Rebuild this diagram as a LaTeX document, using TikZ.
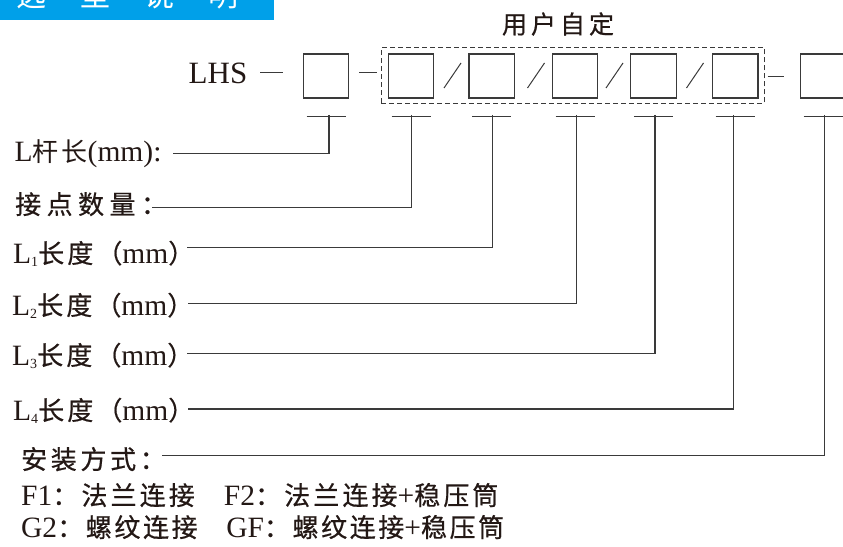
\documentclass[tikz,border=0pt]{standalone}
\usepackage{fontspec}
\setmainfont{Liberation Serif}
\newfontfamily\cjk[FakeBold=0.6]{Noto Sans CJK SC}
\newfontfamily\cjklight{Noto Sans CJK SC}
\definecolor{ink}{HTML}{231815}
\definecolor{banner}{RGB}{0,160,233}
\definecolor{linec}{HTML}{3A3A3A}
\newcommand\zh[2][0]{{\cjk\fontsize{26}{30}\selectfont\addfontfeature{LetterSpace=#1}#2}}
\newcommand\zhl[1]{{\cjklight\fontsize{26}{30}\selectfont #1}}
\newcommand\sub[1]{\raisebox{-3pt}{\fontsize{14}{14}\selectfont #1}}
\begin{document}
\begin{tikzpicture}[x=1pt,y=-1pt,
  box/.style={draw=linec, line width=1.3pt, minimum width=45.5pt, minimum height=44pt, inner sep=0pt, anchor=north west},
  grp/.style={draw=linec, line width=1.1pt, dash pattern=on 5pt off 3pt, inner sep=0pt, anchor=north west},
  lbl/.style={anchor=base west, inner sep=0pt, text=ink, font=\fontsize{29.5}{32}\selectfont},
  conn/.style={draw=linec, line width=1.2pt},
  ]
\useasboundingbox (0,0) rectangle (843,546);
\clip (0,0) rectangle (843,546);
% banner
\fill[banner] (0,0) rectangle (274,20);
\node[anchor=base west, inner sep=0pt, text=white, font=\cjklight\fontsize{30}{30}\selectfont] (title) at (16,6) {选\hspace{34pt}型\hspace{34pt}说\hspace{34pt}明};
% header
\node[lbl, font=\fontsize{31}{34}\selectfont] (lhs) at (188.5,83) {LHS};
\node[anchor=base, inner sep=0pt, text=ink] (user) at (558,33.5) {{\cjk\fontsize{25}{28}\selectfont\addfontfeature{LetterSpace=16}用户自定}};
\node[box] (b1) at (302.6,53.3) {};
\node[grp, minimum width=383pt, minimum height=55.5pt] (grp) at (380.5,47.3) {};
\node[box] (b2) at (387.6,53.3) {};
\node[box] (b3) at (468.4,53.3) {};
\node[box] (b4) at (551.6,53.3) {};
\node[box] (b5) at (630,53.3) {};
\node[box] (b6) at (711.8,53.3) {};
\node[box] (b7) at (799.6,53.3) {};
% dashes and slashes
\coordinate (d1a) at (260,72.5); \coordinate (d1b) at (283,72.5);
\coordinate (d2a) at (359,72.8); \coordinate (d2b) at (377,72.8);
\coordinate (d3a) at (767.5,76.5); \coordinate (d3b) at (783.5,76.5);
\draw[conn] (d1a) -- (d1b);
\draw[conn] (d2a) -- (d2b);
\draw[conn] (d3a) -- (d3b);
\coordinate (s1a) at (444,88); \coordinate (s1b) at (461,63);
\coordinate (s2a) at (527.5,88); \coordinate (s2b) at (544.5,63);
\coordinate (s3a) at (606,88); \coordinate (s3b) at (623,63);
\coordinate (s4a) at (686.5,88); \coordinate (s4b) at (703.5,63);
\draw[conn, line width=1pt] (s1a) -- (s1b);
\draw[conn, line width=1pt] (s2a) -- (s2b);
\draw[conn, line width=1pt] (s3a) -- (s3b);
\draw[conn, line width=1pt] (s4a) -- (s4b);
% T bars
\foreach \b in {b1,b2,b3,b4,b5,b6,b7}{
  \draw[conn] ([xshift=-19.5pt,yshift=-17.5pt]\b.south) -- ([xshift=19.5pt,yshift=-17.5pt]\b.south);
}
\coordinate (v1) at (329,114.8);
\coordinate (v2) at (411.7,114.8);
\coordinate (v3) at (492.3,114.8);
\coordinate (v4) at (576.7,114.8);
\coordinate (v5) at (655,114.8);
\coordinate (v6) at (733.3,114.8);
\coordinate (v7) at (824.3,114.8);
% labels
\node[lbl] (l1) at (14.5,161.7) {L\zhl{杆\hspace{3pt}长}(mm):};
\node[lbl] (l2) at (15,214) {\zh[21]{接点数量：}};
\node[lbl] (l3) at (13,263) {L\sub{1}\zh[12]{长度（}mm\zh{）}};
\node[lbl] (l4) at (12,315) {L\sub{2}\zh[12]{长度（}mm\zh{）}};
\node[lbl] (l5) at (12,365) {L\sub{3}\zh[12]{长度（}mm\zh{）}};
\node[lbl] (l6) at (13,420) {L\sub{4}\zh[12]{长度（}mm\zh{）}};
\node[lbl] (l7) at (21,469) {\zh[14]{安装方式：}};
\node[lbl] (l8) at (21,505) {F1\zh[12]{：法兰连接　}F2\zh[12]{：法兰连接}+\zh[12]{稳压筒}};
\node[lbl] (l9) at (21,537) {G2\zh[10]{：螺纹连接　}GF\zh[10]{：螺纹连接}+\zh[10]{稳压筒}};
% line starts
\coordinate (e1) at (173,153.3);
\coordinate (e2) at (151.7,207.3);
\coordinate (e3) at (186.7,247.3);
\coordinate (e4) at (188,303.3);
\coordinate (e5) at (186.7,353.3);
\coordinate (e6) at (188.3,409);
\coordinate (e7) at (161.7,455.7);
\draw[conn] (v1) |- (e1);
\draw[conn] (v2) |- (e2);
\draw[conn] (v3) |- (e3);
\draw[conn] (v4) |- (e4);
\draw[conn] (v5) |- (e5);
\draw[conn] (v6) |- (e6);
\draw[conn] (v7) |- (e7);
\end{tikzpicture}
\end{document}
